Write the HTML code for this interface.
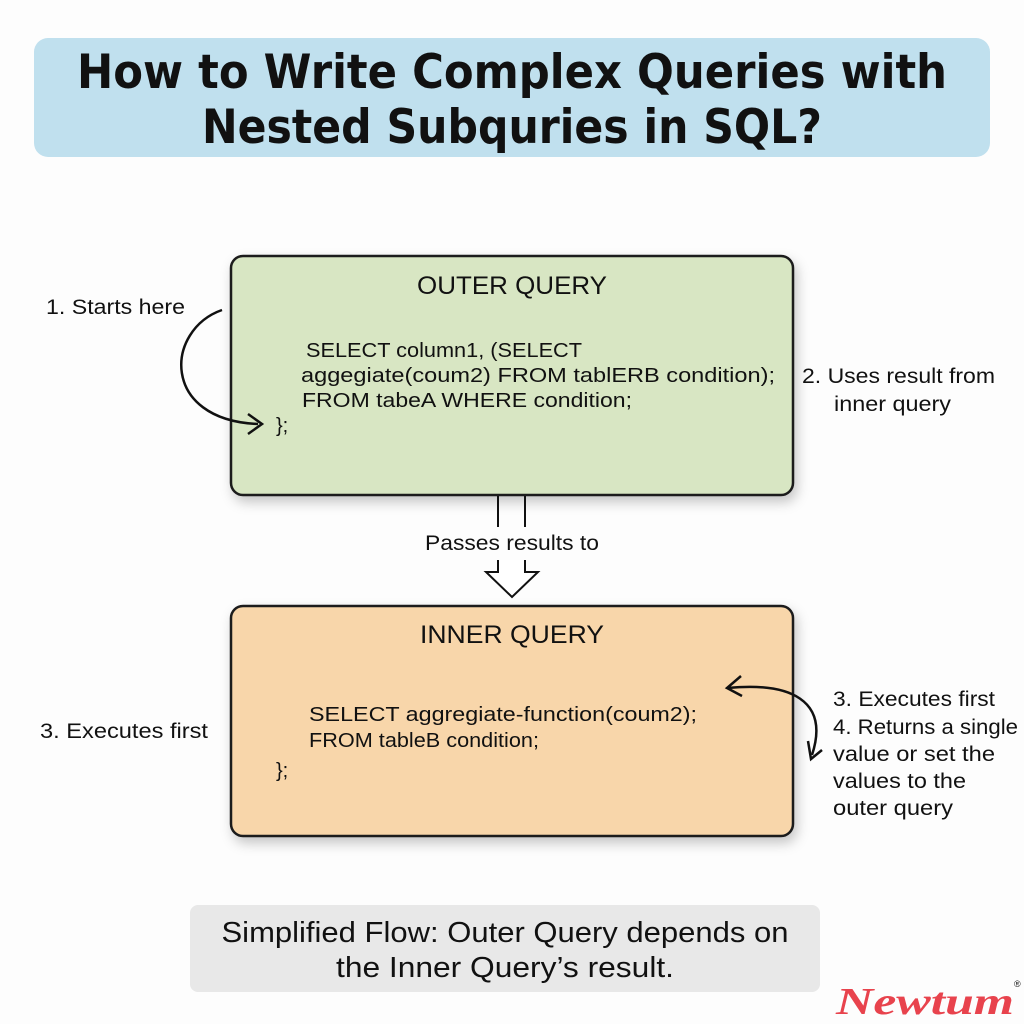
<!DOCTYPE html>
<html><head><meta charset="utf-8"><style>
body{margin:0;background:#fdfdfd;}
svg{display:block}
text{font-family:"Liberation Sans",sans-serif;fill:#111}
</style></head><body>
<svg width="1024" height="1024" viewBox="0 0 1024 1024">
<defs>
<filter id="sh" x="-10%" y="-10%" width="125%" height="130%"><feDropShadow dx="3" dy="6" stdDeviation="6" flood-color="#000" flood-opacity="0.22"/></filter>
</defs>
<rect x="34" y="38" width="956" height="119" rx="14" fill="#c0e0ee"/>
<text x="512" y="88" text-anchor="middle" font-size="47" font-weight="bold" style="font-family:'DejaVu Sans',sans-serif" textLength="870" lengthAdjust="spacingAndGlyphs">How to Write Complex Queries with</text>
<text x="512" y="143" text-anchor="middle" font-size="47" font-weight="bold" style="font-family:'DejaVu Sans',sans-serif" textLength="620" lengthAdjust="spacingAndGlyphs">Nested Subquries in SQL?</text>

<rect x="231" y="256" width="562" height="239" rx="12" fill="#d8e6c3" stroke="#1a1a1a" stroke-width="2.5" filter="url(#sh)"/>
<text x="512" y="294" text-anchor="middle" font-size="25" textLength="190" lengthAdjust="spacingAndGlyphs">OUTER QUERY</text>
<g font-size="20">
<text x="306" y="357" textLength="276" lengthAdjust="spacingAndGlyphs">SELECT column1,  (SELECT</text>
<text x="301" y="382" textLength="474" lengthAdjust="spacingAndGlyphs">aggegiate(coum2)  FROM  tablERB condition);</text>
<text x="302" y="407" textLength="330" lengthAdjust="spacingAndGlyphs">FROM tabeA WHERE condition;</text>
<text x="276" y="432">};</text>
</g>
<text x="46" y="314" font-size="21" textLength="139" lengthAdjust="spacingAndGlyphs">1. Starts here</text>
<path d="M222 310 C165 330 160 420 258 424" fill="none" stroke="#111" stroke-width="2.5"/>
<path d="M248 414 L262 424 L248 434" fill="none" stroke="#111" stroke-width="2.5"/>
<text x="802" y="383" font-size="21" textLength="193" lengthAdjust="spacingAndGlyphs">2. Uses result from</text>
<text x="834" y="411" font-size="21" textLength="117" lengthAdjust="spacingAndGlyphs">inner query</text>

<path d="M498 496 V527 M525 496 V527" stroke="#111" stroke-width="2"/>
<text x="512" y="550" text-anchor="middle" font-size="21" textLength="174" lengthAdjust="spacingAndGlyphs">Passes results to</text>
<path d="M498 560 V572 H486 L512 597 L538 572 H525 V560" fill="#fff" stroke="#111" stroke-width="2"/>

<rect x="231" y="606" width="562" height="230" rx="12" fill="#f8d6aa" stroke="#1a1a1a" stroke-width="2.5" filter="url(#sh)"/>
<text x="512" y="643" text-anchor="middle" font-size="25" textLength="184" lengthAdjust="spacingAndGlyphs">INNER QUERY</text>
<g font-size="20">
<text x="309" y="721" textLength="388" lengthAdjust="spacingAndGlyphs">SELECT aggregiate-function(coum2);</text>
<text x="309" y="747" textLength="230" lengthAdjust="spacingAndGlyphs">FROM tableB condition;</text>
<text x="276" y="777">};</text>
</g>
<text x="40" y="738" font-size="21" textLength="168" lengthAdjust="spacingAndGlyphs">3. Executes first</text>
<path d="M728 688 C790 682 830 700 812 755" fill="none" stroke="#111" stroke-width="2.5"/>
<path d="M741 676 L727 688 L742 696" fill="none" stroke="#111" stroke-width="2.5"/>
<path d="M808 741 L811 759 L822 750" fill="none" stroke="#111" stroke-width="2.5"/>
<g font-size="21">
<text x="833" y="706" textLength="162" lengthAdjust="spacingAndGlyphs">3. Executes first</text>
<text x="833" y="734" textLength="185" lengthAdjust="spacingAndGlyphs">4. Returns a single</text>
<text x="833" y="761" textLength="162" lengthAdjust="spacingAndGlyphs">value or set the</text>
<text x="833" y="788" textLength="133" lengthAdjust="spacingAndGlyphs">values to the</text>
<text x="833" y="815" textLength="120" lengthAdjust="spacingAndGlyphs">outer query</text>
</g>

<rect x="190" y="905" width="630" height="87" rx="8" fill="#e8e8e8"/>
<text x="505" y="942" text-anchor="middle" font-size="29" textLength="567" lengthAdjust="spacingAndGlyphs">Simplified Flow: Outer Query depends on</text>
<text x="505" y="977" text-anchor="middle" font-size="29" textLength="338" lengthAdjust="spacingAndGlyphs">the Inner Query’s result.</text>

<text x="836" y="1014" font-size="38" font-style="italic" font-weight="bold" style="font-family:'Liberation Serif',serif;fill:#e8434d" textLength="178" lengthAdjust="spacingAndGlyphs">Newtum</text>
<text x="1014" y="987" font-size="9">®</text>
</svg>
</body></html>
